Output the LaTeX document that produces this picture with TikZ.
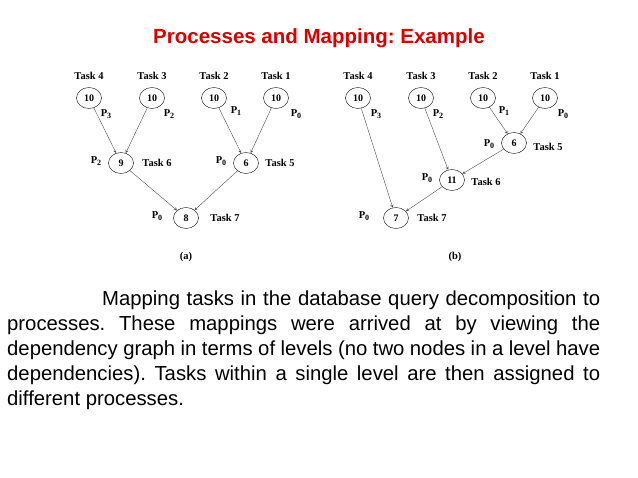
\documentclass[tikz,border=0pt]{standalone}
\usepackage{fontspec}
\setmainfont{Liberation Serif}
\newfontfamily\arial{Liberation Sans}
\usetikzlibrary{shapes.geometric}
\newcommand{\Pp}[1]{P\raisebox{-2.5pt}{\fontsize{8}{8}\selectfont #1}}
\frenchspacing
\begin{document}
\begin{tikzpicture}[x=1pt,y=-1pt,
  task/.style={draw,ellipse,minimum width=25pt,minimum height=21pt,inner sep=0pt,font=\bfseries\fontsize{10}{11}\selectfont},
  lab/.style={font=\bfseries\fontsize{10.5}{12}\selectfont},
  arr/.style={->,>=stealth,draw=black!70,thin}]
\useasboundingbox (0,0) rectangle (638,478);
\node[font=\arial\bfseries\fontsize{20.5}{24}\selectfont,text=red!85!black] (title) at (319,38) {Processes and Mapping: Example};
% (a)
\foreach \n/\x/\t in {a4/89/4,a3/152/3,a2/214/2,a1/276/1}{
  \node[task] (\n) at (\x,98) {10};
  \node[lab] (\n t) at (\x,76) {Task \t};}
\node[task] (a6) at (121,163) {9};
\node[task] (a5) at (246,163) {6};
\node[task] (a7) at (186,218) {8};
\draw[arr] (a4) -- (a6); \draw[arr] (a3) -- (a6);
\draw[arr] (a2) -- (a5); \draw[arr] (a1) -- (a5);
\draw[arr] (a6) -- (a7); \draw[arr] (a5) -- (a7);
\node[lab] (ap3) at (106,114) {\Pp3};
\node[lab] (ap2) at (169,114) {\Pp2};
\node[lab] (ap1) at (236,111) {\Pp1};
\node[lab] (ap0) at (296,114) {\Pp0};
\node[lab] (ap6) at (96,161) {\Pp2};
\node[lab] (at6) at (157,163) {Task 6};
\node[lab] (ap5) at (221,161) {\Pp0};
\node[lab] (at5) at (280,163) {Task 5};
\node[lab] (ap7) at (157,216) {\Pp0};
\node[lab] (at7) at (225,218) {Task 7};
\node[lab] (acap) at (186,257) {(a)};
% (b)
\foreach \n/\x/\t in {b4/358/4,b3/421/3,b2/483/2,b1/545/1}{
  \node[task] (\n) at (\x,98) {10};
  \node[lab] (\n t) at (\x,76) {Task \t};}
\node[task] (b5) at (514,143) {6};
\node[task] (b6) at (452,180) {11};
\node[task] (b7) at (396,218) {7};
\draw[arr] (b2) -- (b5); \draw[arr] (b1) -- (b5);
\draw[arr] (b3) -- (b6); \draw[arr] (b5) -- (b6);
\draw[arr] (b4) -- (b7); \draw[arr] (b6) -- (b7);
\node[lab] (bp3) at (376,114) {\Pp3};
\node[lab] (bp2) at (438,114) {\Pp2};
\node[lab] (bp1) at (504,111) {\Pp1};
\node[lab] (bp0) at (563,114) {\Pp0};
\node[lab] (bp5) at (489,144) {\Pp0};
\node[lab] (bt5) at (548,147) {Task 5};
\node[lab] (bp6) at (427,178) {\Pp0};
\node[lab] (bt6) at (486,182) {Task 6};
\node[lab] (bp7) at (364,216) {\Pp0};
\node[lab] (bt7) at (432,218) {Task 7};
\node[lab] (bcap) at (455,257) {(b)};
\node[anchor=north west,text width=593pt,inner sep=0pt,align=justify,
  font=\arial\fontsize{20.3}{25}\selectfont] (para) at (7,291)
{\hspace*{95pt}Mapping tasks in the database query decomposition to\linebreak processes. These mappings were arrived at by viewing the\linebreak dependency graph in terms of levels (no two nodes in a level have\linebreak dependencies). Tasks within a single level are then assigned to\linebreak different processes.};
\end{tikzpicture}
\end{document}
